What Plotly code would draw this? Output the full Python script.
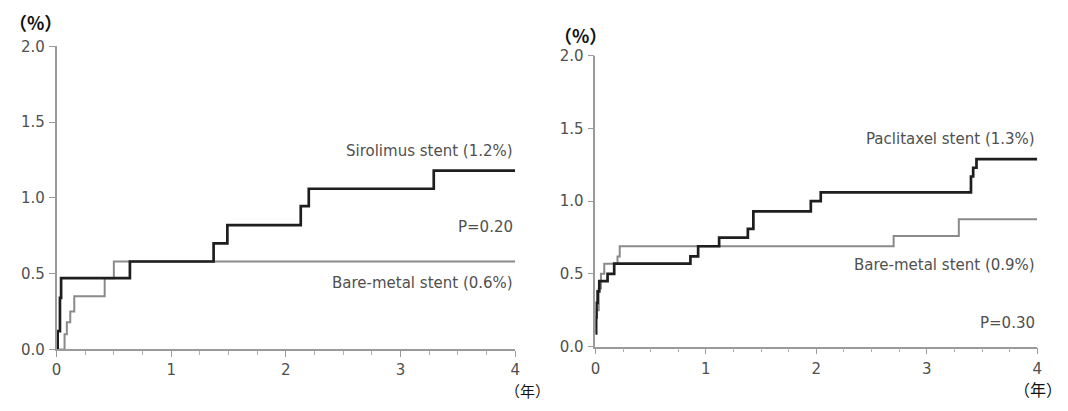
import plotly.graph_objects as go

# Left panel: Sirolimus vs bare-metal
t_siro = [0, 0.01, 0.03, 0.04, 0.64, 1.37, 1.49, 2.13, 2.20, 3.29, 4.0]
v_siro = [0, 0.12, 0.34, 0.47, 0.58, 0.70, 0.82, 0.945, 1.06, 1.18, 1.18]
t_bms1 = [0, 0.07, 0.09, 0.12, 0.155, 0.42, 0.50, 4.0]
v_bms1 = [0, 0.10, 0.18, 0.25, 0.35, 0.47, 0.58, 0.58]

# Right panel: Paclitaxel vs bare-metal
t_pac = [0, 0.005, 0.01, 0.02, 0.035, 0.11, 0.17, 0.86, 0.93, 1.12, 1.38, 1.43, 1.95, 2.04, 3.40, 3.42, 3.45, 4.0]
v_pac = [0.09, 0.2, 0.3, 0.38, 0.45, 0.50, 0.57, 0.62, 0.69, 0.75, 0.81, 0.93, 1.00, 1.06, 1.17, 1.23, 1.29, 1.29]
t_bms2 = [0, 0.01, 0.03, 0.05, 0.08, 0.2, 0.22, 2.70, 3.29, 4.0]
v_bms2 = [0.09, 0.25, 0.40, 0.50, 0.57, 0.62, 0.69, 0.76, 0.875, 0.875]

x_ticks = [0, 1, 2, 3, 4]
y_ticks = [0.0, 0.5, 1.0, 1.5, 2.0]
y_tick_text = ["0.0", "0.5", "1.0", "1.5", "2.0"]

DARK = "#1e1e1e"
GRAY = "#8a8a8a"
TXT = "#505050"
FONT = "DejaVu Sans"

fig = go.Figure()
fig.add_trace(go.Scatter(x=t_bms1, y=v_bms1, mode="lines", line=dict(shape="hv", color=GRAY, width=2),
                         xaxis="x", yaxis="y", showlegend=False, hoverinfo="skip"))
fig.add_trace(go.Scatter(x=t_siro, y=v_siro, mode="lines", line=dict(shape="hv", color=DARK, width=2.7),
                         xaxis="x", yaxis="y", showlegend=False, hoverinfo="skip"))
fig.add_trace(go.Scatter(x=t_bms2, y=v_bms2, mode="lines", line=dict(shape="hv", color=GRAY, width=2),
                         xaxis="x2", yaxis="y2", showlegend=False, hoverinfo="skip"))
fig.add_trace(go.Scatter(x=t_pac, y=v_pac, mode="lines", line=dict(shape="hv", color=DARK, width=2.7),
                         xaxis="x2", yaxis="y2", showlegend=False, hoverinfo="skip"))

W, H = 1068, 411

def xa(domain, anchor, standoff):
    return dict(domain=domain, anchor=anchor, range=[0, 4], tickvals=x_ticks, ticktext=[str(v) for v in x_ticks],
                showgrid=False, zeroline=False, showline=True, linecolor="#9a9a9a", linewidth=1.5,
                ticks="outside", ticklen=6, tickwidth=1.2, tickcolor="#9a9a9a", ticklabelstandoff=standoff,
                minor=dict(dtick=0.25, tick0=0, ticks="outside", ticklen=4, tickwidth=1, tickcolor="#b0b0b0"),
                tickfont=dict(family=FONT, size=15, color=TXT), fixedrange=True)

def ya(domain, anchor):
    return dict(domain=domain, anchor=anchor, range=[0, 2], tickvals=y_ticks, ticktext=y_tick_text,
                showgrid=False, zeroline=False, showline=True, linecolor="#9a9a9a", linewidth=1.5,
                ticks="outside", ticklen=6, tickwidth=1.2, tickcolor="#9a9a9a", ticklabelstandoff=1,
                tickfont=dict(family=FONT, size=15, color=TXT), fixedrange=True)

fig.update_layout(
    width=W, height=H, margin=dict(l=0, r=0, t=0, b=0),
    paper_bgcolor="white", plot_bgcolor="white",
    xaxis=xa([52 / W, 515 / W], "y", 0),
    yaxis=ya([55 / H, 372 / H], "x"),
    xaxis2=xa([596 / W, 1042 / W], "y2", 2),
    yaxis2=ya([58 / H, 362 / H], "x2"),
)

def txt(x, y, s, xref, yref, xanchor="right", size=15, color=TXT, family=FONT):
    fig.add_annotation(x=x, y=y, xref=xref, yref=yref, text=s, showarrow=False, xanchor=xanchor,
                       yanchor="middle", font=dict(family=family, size=size, color=color))

txt(4, 1.31, "Sirolimus stent (1.2%)", "x", "y")
txt(4, 0.81, "P=0.20", "x", "y")
txt(4, 0.435, "Bare-metal stent (0.6%)", "x", "y")
txt(4, 1.43, "Paclitaxel stent (1.3%)", "x2", "y2")
txt(4, 0.56, "Bare-metal stent (0.9%)", "x2", "y2")
txt(4, 0.165, "P=0.30", "x2", "y2")

CJK = "Noto Sans CJK JP"
fig.add_annotation(x=2 / W, y=1 - 14 / H, xref="paper", yref="paper", text="<b>（%）</b>", showarrow=False,
                   xanchor="left", yanchor="middle", font=dict(family=CJK, size=18, color="#111"))
fig.add_annotation(x=552 / W, y=1 - 27 / H, xref="paper", yref="paper", text="<b>（%）</b>", showarrow=False,
                   xanchor="left", yanchor="middle", font=dict(family=CJK, size=18, color="#111"))
fig.add_annotation(x=551 / W, y=0, xref="paper", yref="paper", text="（年）", showarrow=False,
                   xanchor="right", yanchor="bottom", borderpad=0, font=dict(family=CJK, size=15, color="#111"))
fig.add_annotation(x=1068 / W, y=0, xref="paper", yref="paper", text="（年）", showarrow=False,
                   xanchor="right", yanchor="bottom", borderpad=0, font=dict(family=CJK, size=16, color="#111"))

fig.write_html("out.html")
